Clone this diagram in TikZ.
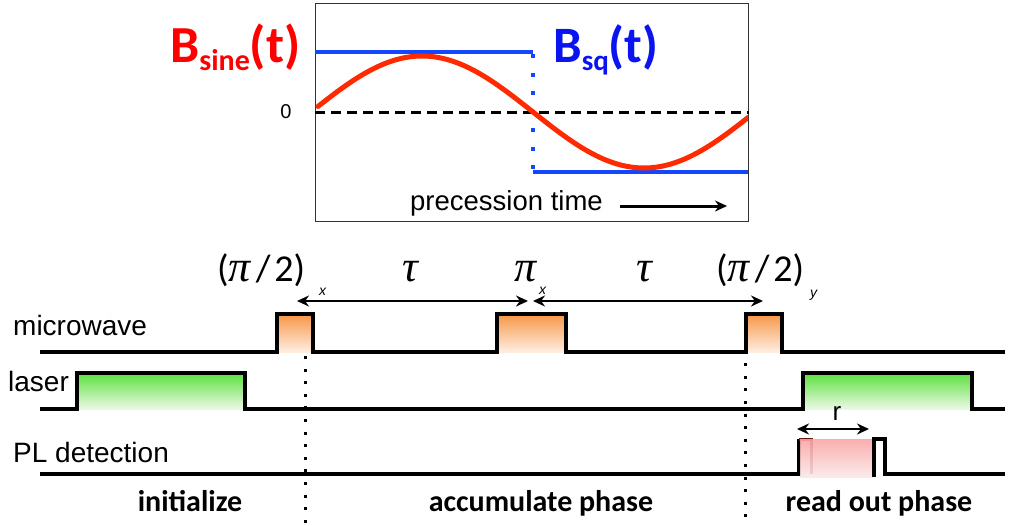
\documentclass[tikz,border=0pt]{standalone}
\usepackage{fontspec}
\setmainfont{Liberation Sans}
\newfontfamily\calib{Carlito}
\newfontfamily\serifgr{Liberation Serif}
\usetikzlibrary{arrows.meta}
\definecolor{redtxt}{RGB}{255,0,0}
\definecolor{redcurve}{RGB}{255,42,0}
\definecolor{bluetxt}{RGB}{10,20,240}
\definecolor{blueline}{RGB}{20,70,255}
\definecolor{orgtop}{RGB}{247,150,70}
\definecolor{orgbot}{RGB}{253,238,225}
\definecolor{grntop}{RGB}{90,225,60}
\definecolor{grnbot}{RGB}{236,248,230}
\definecolor{pnktop}{RGB}{250,165,165}
\definecolor{pnkbot}{RGB}{251,232,232}
\definecolor{darkred}{RGB}{110,20,20}
\tikzset{
  sig/.style={line width=3.2pt, black, line join=miter},
  dotv/.style={line width=3pt, black, dash pattern=on 3pt off 9.6pt},
  dblarrow/.style={line width=2.8pt, {Stealth[length=12pt,width=11pt]}-{Stealth[length=12pt,width=11pt]}},
  lab/.style={font=\fontsize{28}{30}\selectfont, anchor=base west, inner sep=0pt},
  phase/.style={font=\calib\bfseries\fontsize{30}{32}\selectfont, anchor=base, inner sep=0pt},
  mth/.style={font=\fontsize{44}{46}\selectfont, anchor=base west, inner sep=0pt},
  mthc/.style={font=\calib\fontsize{38}{40}\selectfont, anchor=base west, inner sep=0pt},
  subl/.style={font=\itshape\fontsize{14}{16}\selectfont, anchor=base west, inner sep=0pt},
}
\newcommand{\gpi}{{\serifgr\itshape\fontsize{44}{46}\selectfont π}}
\newcommand{\gtau}{{\serifgr\itshape τ}}
\begin{document}
\begin{tikzpicture}[x=1pt,y=-1pt]
\useasboundingbox (0,0) rectangle (1009,525);
% ---------- top chart ----------
\node[draw=black!80, line width=1.3pt, minimum width=433pt, minimum height=218pt, anchor=north west, inner sep=0pt] (box) at (315,3) {};
\draw[line width=3pt, dash pattern=on 10pt off 6pt] (box.west |- 0,112) coordinate (z0) -- (box.east |- 0,112) coordinate (z1);
\node[font=\fontsize{20}{22}\selectfont, inner sep=0pt] (zero) at (286,112) {0};
\draw[blueline, line width=3.5pt] (315,52) coordinate (bq0) -- (533,52) coordinate (bq1);
\draw[blueline, line width=4pt, dash pattern=on 4pt off 14.5pt] (533,54) -- (533,172);
\draw[blueline, line width=3.5pt] (533,172) coordinate (bq2) -- (748,172) coordinate (bq3);
\begin{scope}
\clip (315,3) rectangle (748,221);
\draw[redcurve, line width=5pt, line cap=round, domain=318:748, samples=120, smooth] plot (\x, {112-56*sin((\x-311)/444*360)});
\end{scope}
\node[anchor=base west, inner sep=0pt, text=redtxt, font=\calib\bfseries] (bsine) at (170,62)
  {\fontsize{52}{56}\selectfont B\raisebox{-8pt}{\fontsize{30}{32}\selectfont sine}(t)};
\node[anchor=base west, inner sep=0pt, text=bluetxt, font=\calib\bfseries] (bsq) at (553,62)
  {\fontsize{51}{56}\selectfont B\raisebox{-8pt}{\fontsize{29}{32}\selectfont sq}(t)};
\node[anchor=base west, inner sep=0pt, font=\fontsize{27.5}{30}\selectfont] (prec) at (410,210) {precession time};
\coordinate (pa0) at (620,206);
\coordinate (pa1) at (727,206);
\draw[line width=3pt, -{Stealth[length=12pt,width=11pt]}] (pa0) -- (pa1);
% ---------- labels ----------
\node[lab] (mw) at (13,335) {microwave};
\node[lab] (las) at (8,391) {laser};
\node[lab] (pl) at (13,462) {PL detection};
% ---------- dotted guides ----------
\draw[dotv] (305,356) coordinate (d0) -- (305,525) coordinate (d1);
\draw[dotv] (745,338) coordinate (d2) -- (745,525) coordinate (d3);
% ---------- microwave ----------
\shade[top color=orgtop, bottom color=orgbot] (277,314) rectangle (313,352);
\shade[top color=orgtop, bottom color=orgbot] (497,314) rectangle (566,352);
\shade[top color=orgtop, bottom color=orgbot] (746,314) rectangle (782,352);
\draw[sig] (40,352) -- (277,352) -- (277,314) -- (313,314) -- (313,352) -- (497,352) -- (497,314) -- (566,314) -- (566,352) -- (746,352) -- (746,314) -- (782,314) -- (782,352) -- (1005,352);
% ---------- laser ----------
\shade[top color=grntop, bottom color=grnbot] (77,373) rectangle (245,409);
\shade[top color=grntop, bottom color=grnbot] (803,373) rectangle (972,409);
\draw[sig] (40,409) -- (77,409) -- (77,373) -- (245,373) -- (245,409) -- (803,409) -- (803,373) -- (972,373) -- (972,409) -- (1005,409);
% ---------- PL detection ----------
\draw[sig] (40,474) -- (799,474) -- (799,439);
\draw[darkred, line width=3pt] (799,439) -- (811,439) -- (811,474);
\shade[top color=pnktop, bottom color=pnkbot, opacity=0.9] (800,439) rectangle (873,477);
\draw[sig] (874,477) -- (874,439) -- (885,439) -- (885,474) -- (1005,474);
\draw[dblarrow] (797,429) coordinate (r0) -- (869,429) coordinate (r1);
\node[font=\fontsize{26}{28}\selectfont, anchor=base, inner sep=0pt] (rl) at (837,420) {r};
% ---------- pulse labels ----------
\draw[dblarrow] (297,301) coordinate (a0) -- (528,301) coordinate (a1);
\draw[dblarrow] (533,301) coordinate (a2) -- (763,301) coordinate (a3);
\node[mthc] (p1) at (217,281) {(\gpi\hspace{5pt}/\hspace{4pt}2)};
\node[subl] (p1s) at (319,295) {x};
\node[mth] (t1) at (402,281) {\gtau};
\node[mth] (p2) at (514,281) {\gpi};
\node[subl] (p2s) at (539,294) {x};
\node[mth] (t2) at (636,281) {\gtau};
\node[mthc] (p3) at (716,281) {(\gpi\hspace{5pt}/\hspace{4pt}2)};
\node[subl] (p3s) at (810,297) {y};
% ---------- phases ----------
\node[phase] (ph1) at (190,511) {initialize};
\node[phase] (ph2) at (541,511) {accumulate phase};
\node[phase] (ph3) at (879,511) {read out phase};
\end{tikzpicture}
\end{document}
